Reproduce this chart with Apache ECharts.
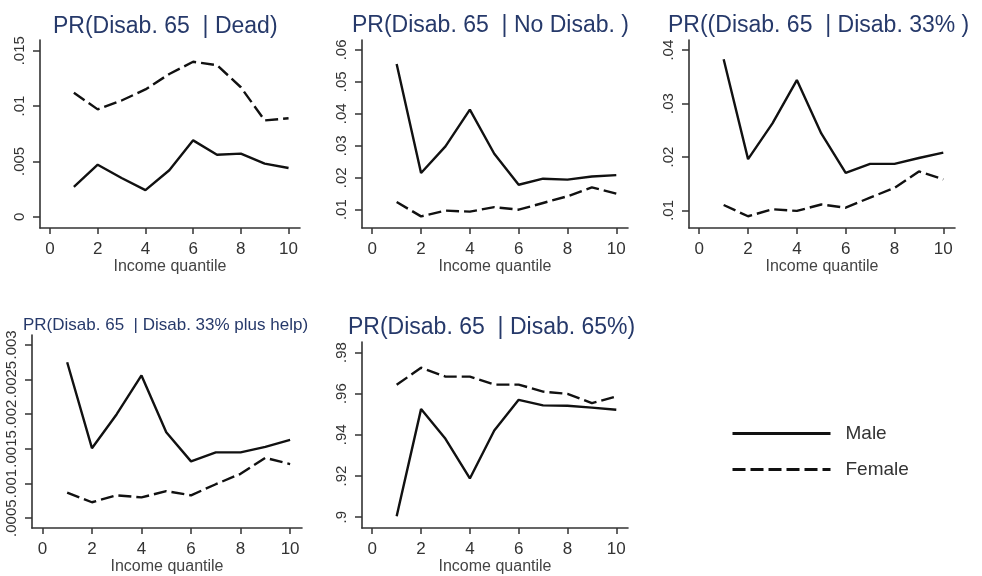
<!DOCTYPE html>
<html>
<head>
<meta charset="utf-8">
<script src="https://cdn.jsdelivr.net/npm/echarts@6/dist/echarts.min.js"></script>
<style>
  html, body { margin: 0; padding: 0; background: #fff; }
  #chart { width: 982px; height: 576px; }
</style>
</head>
<body>
<div id="chart"></div>
<script>
var quantiles = [1, 2, 3, 4, 5, 6, 7, 8, 9, 10];
var xTicks = [0, 2, 4, 6, 8, 10];

// PR(Disab. 65 | Dead)
var deadMale   = [0.0027, 0.0047, 0.0035, 0.0024, 0.0042, 0.0069, 0.0056, 0.0057, 0.0048, 0.0044];
var deadFemale = [0.0112, 0.0097, 0.0105, 0.0115, 0.0129, 0.0140, 0.0137, 0.0117, 0.0087, 0.0089];
var deadTicks  = [0, 0.005, 0.01, 0.015];

// PR(Disab. 65 | No Disab.)
var noDisMale   = [0.0556, 0.0215, 0.0298, 0.0413, 0.0275, 0.0178, 0.0197, 0.0194, 0.0204, 0.0208];
var noDisFemale = [0.0124, 0.0079, 0.0097, 0.0094, 0.0108, 0.0100, 0.0121, 0.0142, 0.0170, 0.0150];
var noDisTicks  = [0.01, 0.02, 0.03, 0.04, 0.05, 0.06];

// PR(Disab. 65 | Disab. 33%)
var dis33Male   = [0.0383, 0.0196, 0.0263, 0.0344, 0.0244, 0.0170, 0.0187, 0.0187, 0.0198, 0.0208];
var dis33Female = [0.0110, 0.0089, 0.0102, 0.0099, 0.0111, 0.0105, 0.0124, 0.0142, 0.0173, 0.0158];
var dis33Ticks  = [0.01, 0.02, 0.03, 0.04];

// PR(Disab. 65 | Disab. 33% plus help)
var helpMale   = [0.00275, 0.00151, 0.0020, 0.00256, 0.00174, 0.00132, 0.00145, 0.00145, 0.00153, 0.00163];
var helpFemale = [0.00087, 0.00073, 0.00083, 0.00080, 0.00089, 0.00083, 0.00099, 0.00114, 0.00137, 0.00128];
var helpTicks  = [0.0005, 0.001, 0.0015, 0.002, 0.0025, 0.003];

// PR(Disab. 65 | Disab. 65%)
var dis65Male   = [0.9005, 0.9525, 0.9381, 0.9188, 0.9421, 0.9570, 0.9543, 0.9541, 0.9532, 0.9522];
var dis65Female = [0.9643, 0.9726, 0.9683, 0.9683, 0.9644, 0.9644, 0.9610, 0.9599, 0.9554, 0.9586];
var dis65Ticks  = [0.9, 0.92, 0.94, 0.96, 0.98];

var panels = [
  {title: 'PR(Disab. 65  | Dead)', tx: 53, ty: 15, tsize: 23,
   grid: {left: 40, top: 40, width: 260, height: 188},
   ymin: -0.00102, ymax: 0.01597, ticks: deadTicks, male: deadMale, female: deadFemale},
  {title: 'PR(Disab. 65  | No Disab. )', tx: 352, ty: 14, tsize: 23,
   grid: {left: 362, top: 40, width: 266, height: 188},
   ymin: 0.00427, ymax: 0.0631, ticks: noDisTicks, male: noDisMale, female: noDisFemale},
  {title: 'PR((Disab. 65  | Disab. 33% )', tx: 668, ty: 14, tsize: 23,
   grid: {left: 689, top: 40, width: 266, height: 188},
   ymin: 0.0067, ymax: 0.0419, ticks: dis33Ticks, male: dis33Male, female: dis33Female},
  {title: 'PR(Disab. 65  | Disab. 33% plus help)', tx: 23, ty: 317, tsize: 17,
   grid: {left: 32, top: 335, width: 270, height: 194},
   ymin: 0.000357, ymax: 0.003143, ticks: helpTicks, male: helpMale, female: helpFemale},
  {title: 'PR(Disab. 65  | Disab. 65%)', tx: 348, ty: 316, tsize: 23,
   grid: {left: 362, top: 342, width: 266, height: 187},
   ymin: 0.8947, ymax: 0.9851, ticks: dis65Ticks, male: dis65Male, female: dis65Female}
];

function pairs(ys) {
  return quantiles.map(function(q, i){ return [q, ys[i]]; });
}

function tickText(v) {
  return String(v).replace(/^0\./, '.');
}

var axisColor = '#333';
var font = 'Liberation Sans, Arial, sans-serif';

var titles = [], grids = [], xAxes = [], yAxes = [], series = [];

panels.forEach(function(p, i){
  titles.push({
    text: p.title, left: p.tx, top: p.ty, padding: 0,
    textStyle: {color: '#26396a', fontSize: p.tsize, fontWeight: 'normal', fontFamily: font}
  });
  grids.push(p.grid);
  xAxes.push({
    type: 'value', gridIndex: i, min: -0.42, max: 10.48,
    name: 'Income quantile', nameLocation: 'middle', nameGap: 29,
    nameTextStyle: {color: '#444', fontSize: 16, fontFamily: font},
    axisLine: {onZero: false, lineStyle: {color: axisColor, width: 1.6}},
    axisTick: {show: true, length: 6, customValues: xTicks, lineStyle: {color: axisColor, width: 1.5}},
    axisLabel: {customValues: xTicks, margin: 13, color: '#333', fontSize: 17, fontFamily: font},
    splitLine: {show: false}
  });
  yAxes.push({
    type: 'value', gridIndex: i, min: p.ymin, max: p.ymax,
    axisLine: {show: true, onZero: false, lineStyle: {color: axisColor, width: 1.6}},
    axisTick: {show: true, length: 7, customValues: p.ticks, lineStyle: {color: axisColor, width: 1.5}},
    axisLabel: {customValues: p.ticks, rotate: 90, margin: 13, color: '#333', fontSize: 15,
                fontFamily: font, formatter: tickText},
    splitLine: {show: false}
  });
  series.push({
    name: 'Male', type: 'line', xAxisIndex: i, yAxisIndex: i, symbol: 'none',
    data: pairs(p.male), lineStyle: {color: '#111', width: 2.4}, itemStyle: {color: '#111'}
  });
  series.push({
    name: 'Female', type: 'line', xAxisIndex: i, yAxisIndex: i, symbol: 'none',
    data: pairs(p.female), lineStyle: {color: '#111', width: 2.4, type: [13, 5]}, itemStyle: {color: '#111'}
  });
});

var myChart = echarts.init(document.getElementById('chart'), null, {renderer: 'canvas'});

myChart.setOption({
  animation: false,
  backgroundColor: '#fff',
  title: titles,
  grid: grids,
  xAxis: xAxes,
  yAxis: yAxes,
  legend: {
    data: ['Male', 'Female'], orient: 'vertical', left: 731, top: 424, padding: 0,
    itemWidth: 98, itemHeight: 20, itemGap: 17,
    itemStyle: {color: 'rgba(0,0,0,0)', borderWidth: 0},
    lineStyle: {width: 3},
    textStyle: {color: '#333', fontSize: 19, fontFamily: font, padding: [0, 0, 0, 10]}
  },
  series: series
});
</script>
</body>
</html>
